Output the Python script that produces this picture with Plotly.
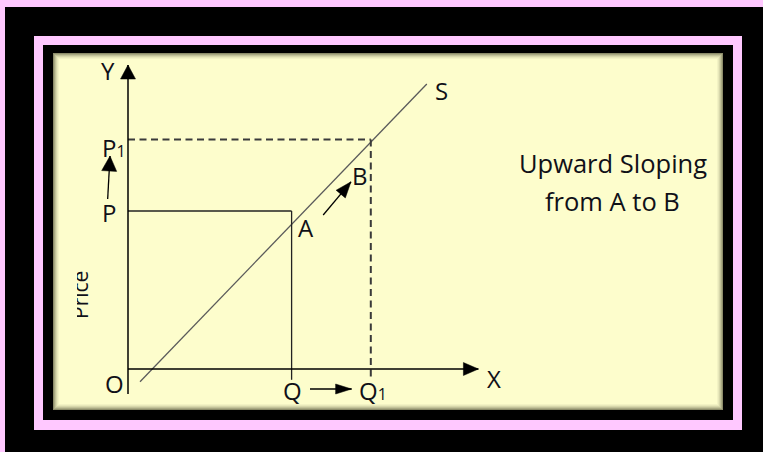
import math
import plotly.graph_objects as go

# ---------------- data (diagram units) ----------------
P = 3.95          # initial price
P1 = 5.74         # new price
Q = 4.09          # initial quantity
Q1 = 6.07         # new quantity
supply_x = [0.30, 7.47]
supply_y = [-0.32, 7.125]
y_axis_span = [-0.625, 7.6]
x_axis_span = [0.0, 8.76]
label_below = -0.27

W, H = 763, 452
UNIT = 40.0
OX, OY = 128.0, 369.0   # pixel position of origin O
x_range = [(0 - OX) / UNIT, (W - OX) / UNIT]
y_range = [(OY - H) / UNIT, OY / UNIT]

FONT = "Open Sans"
TXT = "#101018"
CREAM = "#FDFDCC"

fig = go.Figure()

def line(xs, ys, color="#222", width=1.3, dash=None):
    fig.add_trace(go.Scatter(x=xs, y=ys, mode="lines",
                             line=dict(color=color, width=width, dash=dash),
                             hoverinfo="skip", showlegend=False))

def arrow(xs, ys, head_len=15, half_w=7, width=1.4, color="black"):
    # shaft
    line(xs, ys, color=color, width=width)
    # filled head: tip at the last point, built in the equal-scale data space
    dx, dy = xs[1] - xs[0], ys[1] - ys[0]
    n = math.hypot(dx, dy)
    ux, uy = dx / n, dy / n
    L, hw = head_len / UNIT, half_w / UNIT
    bx, by = xs[1] - ux * L, ys[1] - uy * L
    hx = [xs[1], bx - uy * hw, bx + uy * hw, xs[1]]
    hy = [ys[1], by + ux * hw, by - ux * hw, ys[1]]
    fig.add_trace(go.Scatter(x=hx, y=hy, mode="lines", fill="toself",
                             fillcolor=color, line=dict(color=color, width=0.5),
                             hoverinfo="skip", showlegend=False))

# supply curve
line(supply_x, supply_y, color="#5a5a5a", width=1.3)
# initial equilibrium (solid)
line([0, Q], [P, P], color="#222", width=1.3)
line([Q, Q], [P, label_below], color="#222", width=1.3)
# new equilibrium (dashed)
line([0, Q1], [P1, P1], color="#3a3a3a", width=2, dash="7px,4.5px")
line([Q1, Q1], [P1, label_below], color="#3a3a3a", width=2, dash="7px,4.5px")
# axes
arrow([0, 0], y_axis_span, head_len=14, half_w=7.5, width=1.5)
arrow(x_axis_span, [0, 0], head_len=15, half_w=6.5, width=1.5)
# movement arrows
arrow([-0.508, -0.45], [4.25, 5.325], head_len=15, half_w=7.5, width=1.3)
arrow([4.55, 5.59], [-0.5, -0.5], head_len=16, half_w=5, width=1.3)
arrow([4.88, 5.575], [3.85, 4.68], head_len=16, half_w=6, width=1.3)

# ---------------- labels ----------------
sub = "<span style='font-size:16px'>1</span>"
labels = [
    ("Y", -0.51, 7.46, 24),
    ("P" + sub, -0.36, 5.55, 24),
    ("P", -0.475, 3.91, 24),
    ("O", -0.34, -0.35, 24),
    ("Q", 4.1, -0.525, 24),
    ("Q" + sub, 6.13, -0.525, 24),
    ("X", 9.14, -0.225, 24),
    ("S", 7.84, 6.975, 24),
    ("A", 4.44, 3.55, 24),
    ("B", 5.8, 4.85, 24),
    ("Upward Sloping", 12.12, 5.15, 25.5),
    ("from A to B", 12.12, 4.2, 25.5),
]
for t, x, y, fs in labels:
    fig.add_annotation(x=x, y=y, text=t, showarrow=False,
                       font=dict(family=FONT, size=fs, color=TXT),
                       xanchor="center", yanchor="middle")

# partly hidden axis title "Price" (its left edge is cut off in the original)
fig.add_annotation(x=(80 - OX) / UNIT, y=(OY - 295) / UNIT, text="Price", showarrow=False,
                   textangle=-90, font=dict(family=FONT, size=21, color=TXT),
                   xanchor="center", yanchor="middle")
fig.add_annotation(x=((59 + 77) / 2 - OX) / UNIT, y=(OY - 295) / UNIT, text=" ",
                   showarrow=False, bgcolor=CREAM, width=77 - 59, height=80,
                   borderpad=0, borderwidth=0, xanchor="center", yanchor="middle")

# ---------------- frame (decoration) ----------------
def rect(x0, y0, x1, y1, color, layer="below"):
    fig.add_shape(type="rect", xref="paper", yref="paper",
                  x0=x0 / W, x1=x1 / W, y0=1 - y1 / H, y1=1 - y0 / H,
                  fillcolor=color, line=dict(width=0), layer=layer)

rect(5, 7, W, H, "#000000")
rect(34, 36, 742, 430, "#FFC8FF")
rect(43, 45, 733, 420, "#000000")
shadow = ["#8c8c6a", "#a9a983", "#c2c299", "#d7d7ab", "#e8e8ba", "#f3f3c4"]
for i, c in enumerate(shadow):
    rect(53 + i, 53 + i, 723 - i, 410 - i, c)
rect(53 + len(shadow), 53 + len(shadow), 723 - len(shadow), 410 - len(shadow), CREAM)

fig.update_layout(
    width=W, height=H, autosize=False,
    margin=dict(l=0, r=0, t=0, b=0),
    paper_bgcolor="#FFC8FF", plot_bgcolor="rgba(0,0,0,0)",
    xaxis=dict(range=x_range, visible=False, fixedrange=True),
    yaxis=dict(range=y_range, visible=False, fixedrange=True),
    showlegend=False,
)
fig.write_html("out.html", config={"displayModeBar": False},
               post_script="document.body.style.margin='0';document.body.style.overflow='hidden';")
